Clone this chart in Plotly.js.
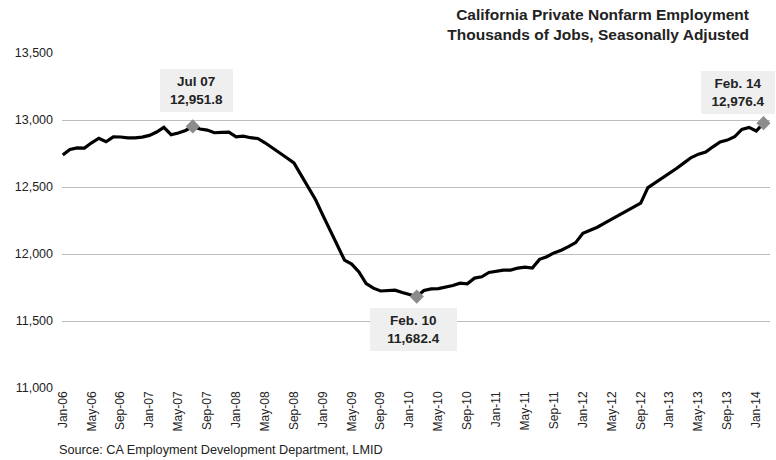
<!DOCTYPE html>
<html>
<head>
<meta charset="utf-8">
<script src="https://cdn.plot.ly/plotly-3.0.1.min.js"></script>
<style>
  html, body { margin: 0; padding: 0; background: #ffffff; }
  #chart { width: 776px; height: 460px; }
</style>
</head>
<body>
<div id="chart"></div>
<script>
// Monthly categories, Jan-06 .. Feb-14
const months = [
  "Jan-06","Feb-06","Mar-06","Apr-06","May-06","Jun-06","Jul-06","Aug-06","Sep-06","Oct-06","Nov-06","Dec-06",
  "Jan-07","Feb-07","Mar-07","Apr-07","May-07","Jun-07","Jul-07","Aug-07","Sep-07","Oct-07","Nov-07","Dec-07",
  "Jan-08","Feb-08","Mar-08","Apr-08","May-08","Jun-08","Jul-08","Aug-08","Sep-08","Oct-08","Nov-08","Dec-08",
  "Jan-09","Feb-09","Mar-09","Apr-09","May-09","Jun-09","Jul-09","Aug-09","Sep-09","Oct-09","Nov-09","Dec-09",
  "Jan-10","Feb-10","Mar-10","Apr-10","May-10","Jun-10","Jul-10","Aug-10","Sep-10","Oct-10","Nov-10","Dec-10",
  "Jan-11","Feb-11","Mar-11","Apr-11","May-11","Jun-11","Jul-11","Aug-11","Sep-11","Oct-11","Nov-11","Dec-11",
  "Jan-12","Feb-12","Mar-12","Apr-12","May-12","Jun-12","Jul-12","Aug-12","Sep-12","Oct-12","Nov-12","Dec-12",
  "Jan-13","Feb-13","Mar-13","Apr-13","May-13","Jun-13","Jul-13","Aug-13","Sep-13","Oct-13","Nov-13","Dec-13",
  "Jan-14","Feb-14"
];

// Private nonfarm employment, thousands of jobs
const employment = [
  12739, 12780, 12792, 12790, 12830, 12864, 12838, 12874, 12873, 12866, 12866, 12872,
  12885, 12910, 12945, 12890, 12903, 12922, 12951.8, 12933, 12925, 12905, 12908, 12910,
  12875, 12880, 12868, 12862, 12830, 12795, 12755, 12718, 12680, 12585, 12490, 12405,
  12290, 12175, 12060, 11955, 11925, 11866, 11780, 11745, 11724, 11730, 11730, 11712,
  11695, 11682.4, 11728, 11740, 11742, 11752, 11765, 11782, 11778, 11820, 11830, 11862,
  11872, 11880, 11880, 11895, 11902, 11895, 11960, 11980, 12008, 12028, 12055, 12085,
  12155, 12175, 12200, 12231, 12262, 12291, 12320, 12350, 12380, 12495, 12530, 12565,
  12605, 12640, 12680, 12720, 12745, 12760, 12800, 12836, 12850, 12875, 12930, 12945,
  12918, 12976.4
];

// Highlighted points
const highlightMonths = ["Jul-07", "Feb-10", "Feb-14"];
const highlightValues = [12951.8, 11682.4, 12976.4];
const highlightLabels = ["Jul 07<br>12,951.8", "Feb. 10<br>11,682.4", "Feb. 14<br>12,976.4"];

// x-axis tick labels (every 4 months)
const tickLabels = [
  "Jan-06","May-06","Sep-06","Jan-07","May-07","Sep-07","Jan-08","May-08","Sep-08",
  "Jan-09","May-09","Sep-09","Jan-10","May-10","Sep-10","Jan-11","May-11","Sep-11",
  "Jan-12","May-12","Sep-12","Jan-13","May-13","Sep-13","Jan-14"
];
const yTicks = [11000, 11500, 12000, 12500, 13000, 13500];
const yTickText = ["11,000", "11,500", "12,000", "12,500", "13,000", "13,500"];

const FONT = "Liberation Sans, Arial, sans-serif";

const traces = [
  {
    type: "scatter", mode: "lines",
    x: months, y: employment,
    line: { color: "#000000", width: 3.2 },
    hoverinfo: "skip"
  },
  {
    type: "scatter", mode: "markers",
    x: highlightMonths, y: highlightValues,
    marker: { symbol: "diamond", size: 11, color: "#8c8c8c" },
    hoverinfo: "skip"
  }
];

// annotation box geometry (shifts relative to the point)
const boxShift = [
  { xs: 3.5, ys: 36, w: 73 },
  { xs: -3.5, ys: -33, w: 87 },
  { xs: -26, ys: 31, w: 74 }
];

const annotations = highlightMonths.map((m, i) => ({
  x: m, y: highlightValues[i], xref: "x", yref: "y",
  text: "<b>" + highlightLabels[i] + "</b>",
  showarrow: false,
  xshift: boxShift[i].xs, yshift: boxShift[i].ys,
  width: boxShift[i].w, height: 43,
  bgcolor: "#efefef", borderwidth: 0, borderpad: 0,
  font: { family: FONT, size: 13.5, color: "#222222" },
  align: "center"
}));

annotations.push({
  xref: "paper", yref: "paper",
  x: (57 - 62) / 708, y: (388 - 450) / 335,
  xanchor: "left", yanchor: "middle",
  text: "Source: CA Employment Development Department, LMID",
  showarrow: false,
  font: { family: FONT, size: 12.7, color: "#222222" }
});

const layout = {
  width: 776, height: 460,
  margin: { l: 62, r: 6, t: 53, b: 72 },
  paper_bgcolor: "#ffffff", plot_bgcolor: "#ffffff",
  showlegend: false,
  font: { family: FONT, color: "#222222" },
  title: {
    text: "<b>California Private Nonfarm Employment<br>Thousands of Jobs, Seasonally Adjusted</b>",
    xref: "container", yref: "container",
    x: 749 / 776, xanchor: "right",
    y: 1 - 19.5 / 460, yanchor: "middle",
    font: { family: FONT, size: 15.5, color: "#222222" }
  },
  xaxis: {
    type: "category",
    range: [-0.1, 97.9],
    tickmode: "array", tickvals: tickLabels, ticktext: tickLabels,
    tickangle: -90,
    tickfont: { family: FONT, size: 12, color: "#222222" },
    showgrid: false, zeroline: false, showline: false,
    ticks: ""
  },
  yaxis: {
    range: [11000, 13500],
    tickmode: "array", tickvals: yTicks, ticktext: yTickText,
    tickfont: { family: FONT, size: 12.5, color: "#222222" },
    showgrid: true, gridcolor: "#bdbdbd", gridwidth: 1,
    zeroline: false, showline: false, ticks: "",
    ticklabelstandoff: 8
  },
  annotations: annotations
};

Plotly.newPlot("chart", traces, layout, { staticPlot: true, displayModeBar: false });
</script>
</body>
</html>
